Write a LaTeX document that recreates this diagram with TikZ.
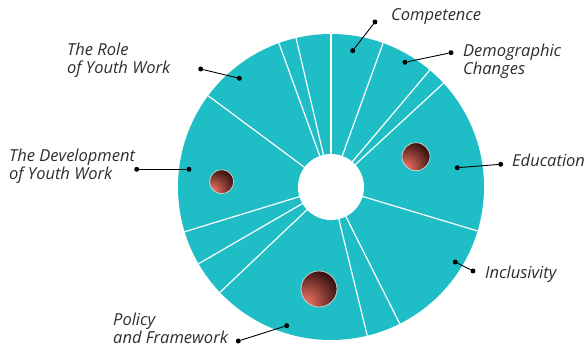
\documentclass[tikz,border=0pt]{standalone}
\usepackage{fontspec}
\setmainfont{Open Sans}
\usepackage{tikz}
\usetikzlibrary{calc}
\usetikzlibrary{positioning}
\definecolor{wheelteal}{RGB}{31,190,198}
\definecolor{labelgray}{RGB}{45,45,45}
\definecolor{balllight}{RGB}{220,102,90}
\definecolor{balldark}{RGB}{58,20,18}
\pgfdeclareradialshading{redball}{\pgfpoint{-22bp}{-22bp}}{color(0bp)=(balllight); color(8bp)=(balllight); color(40bp)=(balldark); color(100bp)=(balldark)}
\tikzstyle{tag} = [draw=none, inner sep = 0, font=\fontsize{16.5}{18}\selectfont\itshape, text=labelgray, align=left, anchor=west]
\tikzstyle{pin} = [circle, fill=black, draw=none, inner sep = 0, minimum size = 5pt]
\tikzstyle{lead} = [-, line width = 0.9pt]
\tikzstyle{ball} = [circle, shading=redball, draw=white!70!gray, line width = 0.7pt, inner sep = 0]

\begin{document}
\begin{tikzpicture}[x=1pt, y=1pt]
\useasboundingbox (-331,-160) rectangle (256,187);
\node [circle, fill=wheelteal, draw=none, inner sep = 0, minimum size = 306pt] (wheel) at (0, 0) {};
\foreach \a in {42.7, 49.8, 70.1, 90, 103.2, 109.9, 143.4, 197, 210.1, 223.5, 283.7, 296.7, 343.3}
  \draw [white, line width = 1.2pt] (wheel.center) -- (\a:153);
\node [circle, fill=white, draw=none, inner sep = 0, minimum size = 66pt] (hole) at (0, 0) {};

\node [ball, minimum size = 28pt] (eduball) at (85, 30.3) {};
\node [ball, minimum size = 24pt] (devball) at (-109.3, 5.3) {};
\node [ball, minimum size = 36pt] (polball) at (-12, -102) {};

\node [tag] (comp) at (60, 170) {Competence};
\node [pin] (compout) at (44, 165) {};
\node [pin] (compin) at (21.7, 136.3) {};
\draw [lead] (compout) -- (compin);

\node [tag] (demo) at (132, 126) {Demographic\\Changes};
\node [pin] (demoout) at (120, 134.3) {};
\node [pin] (demoin) at (74, 124.7) {};
\draw [lead] (demoout) -- (demoin);

\node [tag] (edu) at (181, 27) {Education};
\node [pin] (eduout) at (169.7, 22.7) {};
\node [pin] (eduin) at (126.3, 19.3) {};
\draw [lead] (eduout) -- (eduin);

\node [tag] (incl) at (154, -87) {Inclusivity};
\node [pin] (inclout) at (142, -84) {};
\node [pin] (inclin) at (124.3, -75) {};
\draw [lead] (inclout) -- (inclin);

\node [tag] (pol) at (-218, -141) {Policy\\and Framework};
\node [pin] (polout) at (-92.7, -154) {};
\node [pin] (polin) at (-44.3, -138.7) {};
\draw [lead] (polout) -- (polin);

\node [tag] (dev) at (-322, 21) {The Development\\of Youth Work};
\node [pin] (devout) at (-194.3, 17.7) {};
\node [pin] (devin) at (-142, 17.7) {};
\draw [lead] (devout) -- (devin);

\node [tag] (role) at (-264, 127) {The Role\\of Youth Work};
\node [pin] (roleout) at (-130.3, 118) {};
\node [pin] (rolein) at (-91.7, 108.7) {};
\draw [lead] (roleout) -- (rolein);
\end{tikzpicture}
\end{document}
